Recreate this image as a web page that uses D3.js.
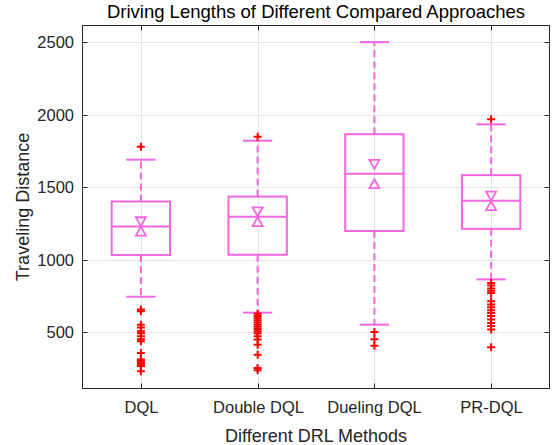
<!DOCTYPE html>
<html><head><meta charset="utf-8">
<script src="https://cdn.jsdelivr.net/npm/d3@7"></script>
<style>body{margin:0;background:#fff}svg{display:block;font-family:"Liberation Sans",Arial,sans-serif}</style>
</head><body><svg id="c" width="555" height="445"></svg>
<script>
const categories = ["DQL", "Double DQL", "Dueling DQL", "PR-DQL"];
const q1 = [1031, 1033, 1197, 1212];
const medians = [1228, 1295, 1592, 1406];
const q3 = [1401, 1435, 1866, 1583];
const whiskerLow = [743, 633, 550, 863];
const whiskerHigh = [1690, 1821, 2502, 1934];
const notchLow = [1196, 1262, 1524, 1373];
const notchHigh = [1261, 1330, 1657, 1438];
const outliers = [
  [1780, 654, 642, 550, 530, 505, 490, 470, 450, 435, 355, 310, 300, 290, 280, 270, 265, 228],
  [1849, 625, 610, 595, 580, 565, 550, 535, 520, 505, 490, 470, 447, 412, 343, 250, 235],
  [500, 450, 405],
  [1969, 838, 820, 800, 785, 769, 711, 690, 670, 650, 630, 610, 585, 562, 540, 516, 394]
];
const yTicks = [500, 1000, 1500, 2000, 2500];
const yDomain = [109, 2617];

const W = 555, H = 445;
const m = {left: 82.5, right: 549.5, top: 25.5, bottom: 388.5};
const svg = d3.select("#c");
const boxColor = "#f266df";
const axisColor = "#262626";

const x = d3.scaleLinear().domain([0.5, categories.length + 0.5]).range([m.left, m.right]);
const y = d3.scaleLinear().domain(yDomain).range([m.bottom, m.top]);

// grid
const g = svg.append("g");
g.selectAll(".gy").data(yTicks).enter().append("line")
  .attr("x1", m.left).attr("x2", m.right)
  .attr("y1", d => Math.round(y(d)) + 0.5).attr("y2", d => Math.round(y(d)) + 0.5)
  .attr("stroke", "#e3e3e3").attr("stroke-width", 1);
g.selectAll(".gx").data(categories).enter().append("line")
  .attr("x1", (d, i) => Math.round(x(i + 1)) + 0.5).attr("x2", (d, i) => Math.round(x(i + 1)) + 0.5)
  .attr("y1", m.top).attr("y2", m.bottom)
  .attr("stroke", "#e3e3e3").attr("stroke-width", 1);

// boxes
const bw = 0.25, cw = 0.125;
categories.forEach((c, i) => {
  const cx = x(i + 1);
  const b = svg.append("g");
  // whiskers
  b.append("line").attr("x1", cx).attr("x2", cx).attr("y1", y(q3[i])).attr("y2", y(whiskerHigh[i]))
    .attr("stroke", boxColor).attr("stroke-width", 2).attr("stroke-dasharray", "7,4");
  b.append("line").attr("x1", cx).attr("x2", cx).attr("y1", y(q1[i])).attr("y2", y(whiskerLow[i]))
    .attr("stroke", boxColor).attr("stroke-width", 2).attr("stroke-dasharray", "7,4");
  // caps
  [whiskerHigh[i], whiskerLow[i]].forEach(v => {
    b.append("line").attr("x1", x(i + 1 - cw)).attr("x2", x(i + 1 + cw)).attr("y1", y(v)).attr("y2", y(v))
      .attr("stroke", boxColor).attr("stroke-width", 2);
  });
  // box
  b.append("rect").attr("x", x(i + 1 - bw)).attr("width", x(i + 1 + bw) - x(i + 1 - bw))
    .attr("y", y(q3[i])).attr("height", y(q1[i]) - y(q3[i]))
    .attr("fill", "none").attr("stroke", boxColor).attr("stroke-width", 2);
  // median
  b.append("line").attr("x1", x(i + 1 - bw)).attr("x2", x(i + 1 + bw)).attr("y1", y(medians[i])).attr("y2", y(medians[i]))
    .attr("stroke", boxColor).attr("stroke-width", 2);
  // notch markers
  const s = 5;
  const yh = y(notchHigh[i]), yl = y(notchLow[i]);
  b.append("path").attr("d", `M${cx - s},${yh - s * 0.9}L${cx + s},${yh - s * 0.9}L${cx},${yh + s * 0.9}Z`)
    .attr("fill", "none").attr("stroke", boxColor).attr("stroke-width", 1.8);
  b.append("path").attr("d", `M${cx - s},${yl + s * 0.9}L${cx + s},${yl + s * 0.9}L${cx},${yl - s * 0.9}Z`)
    .attr("fill", "none").attr("stroke", boxColor).attr("stroke-width", 1.8);
  // outliers
  const r = 4;
  outliers[i].forEach(v => {
    const py = y(v);
    b.append("path").attr("d", `M${cx - r},${py}H${cx + r}M${cx},${py - r}V${py + r}`)
      .attr("stroke", "#ff0000").attr("stroke-width", 2).attr("fill", "none");
  });
});

// frame
svg.append("rect").attr("x", m.left).attr("y", m.top).attr("width", m.right - m.left).attr("height", m.bottom - m.top)
  .attr("fill", "none").attr("stroke", axisColor).attr("stroke-width", 1);

// ticks
const tl = 5;
yTicks.forEach(t => {
  const py = Math.round(y(t)) + 0.5;
  svg.append("line").attr("x1", m.left).attr("x2", m.left + tl).attr("y1", py).attr("y2", py).attr("stroke", axisColor);
  svg.append("line").attr("x1", m.right).attr("x2", m.right - tl).attr("y1", py).attr("y2", py).attr("stroke", axisColor);
  svg.append("text").attr("x", 74).attr("y", py).attr("dy", "0.36em").attr("text-anchor", "end")
    .attr("font-size", 16.5).attr("fill", axisColor).text(t);
});
categories.forEach((c, i) => {
  const px = Math.round(x(i + 1)) + 0.5;
  svg.append("line").attr("x1", px).attr("x2", px).attr("y1", m.bottom).attr("y2", m.bottom - tl).attr("stroke", axisColor);
  svg.append("line").attr("x1", px).attr("x2", px).attr("y1", m.top).attr("y2", m.top + tl).attr("stroke", axisColor);
  svg.append("text").attr("x", px).attr("y", 413).attr("text-anchor", "middle")
    .attr("font-size", 16.5).attr("fill", axisColor).text(c);
});

// labels
svg.append("text").attr("x", (m.left + m.right) / 2).attr("y", 17.5).attr("text-anchor", "middle")
  .attr("font-size", 18.5).attr("fill", "#000").text("Driving Lengths of Different Compared Approaches");
svg.append("text").attr("x", (m.left + m.right) / 2).attr("y", 442).attr("text-anchor", "middle")
  .attr("font-size", 18).attr("fill", axisColor).text("Different DRL Methods");
svg.append("text").attr("transform", `translate(29,${(m.top + m.bottom) / 2}) rotate(-90)`).attr("text-anchor", "middle")
  .attr("font-size", 18).attr("fill", axisColor).text("Traveling Distance");
</script></body></html>
